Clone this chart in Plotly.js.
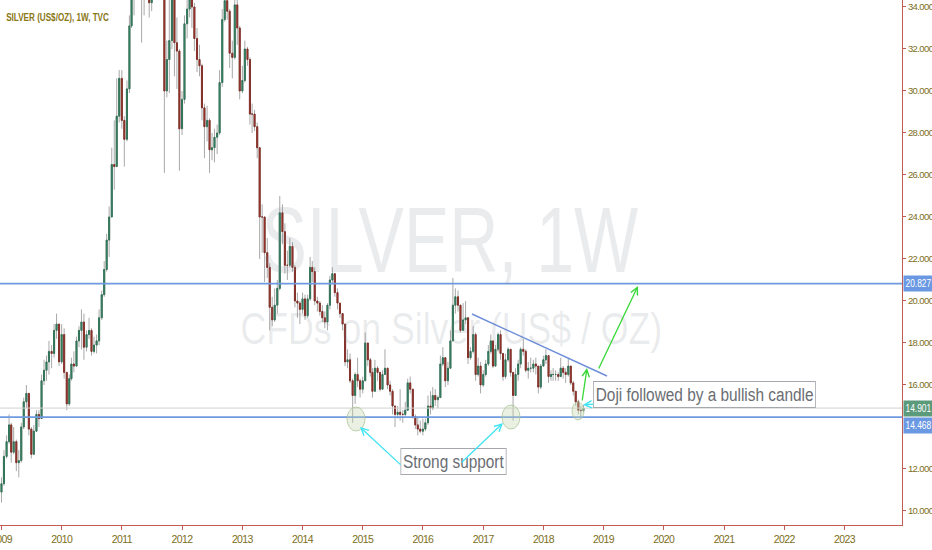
<!DOCTYPE html>
<html>
<head>
<meta charset="utf-8">
<script src="https://cdn.plot.ly/plotly-3.0.1.min.js"></script>
<style>
  html, body { margin: 0; padding: 0; background: #fff; }
  #chart { width: 932px; height: 550px; }
  /* the reference uses a condensed face; squeeze the text horizontally */
  #chart .xtick text, #chart .ytick text { letter-spacing: -0.6px; }
  #chart .annotation text.annotation-text, #chart .annotation rect.bg {
      transform-box: fill-box; transform-origin: center; transform: scaleX(0.81);
  }
  #chart .annotation[data-index="0"] text.annotation-text { transform-origin: left center; transform: scaleX(0.74); }
  #chart .annotation[data-index="1"] text.annotation-text { transform: scaleX(0.74); }
  #chart .annotation[data-index="10"] text.annotation-text, #chart .annotation[data-index="10"] rect.bg,
  #chart .annotation[data-index="11"] text.annotation-text, #chart .annotation[data-index="11"] rect.bg,
  #chart .annotation[data-index="12"] text.annotation-text, #chart .annotation[data-index="12"] rect.bg {
      transform-origin: left center; transform: scaleX(0.8);
  }
</style>
</head>
<body>
<div id="chart"></div>
<script>
// --- Data: half-month candles, rows are [high, low, close], open = previous close ---
const open0 = 10.9;

const y2009 = [[11.6,10.4,11.3],[12.9,11.2,12.6],[13.6,12.5,13.3],[14.6,13.2,14.1],[14.2,12.3,12.8],[14.0,12.7,13.3],[13.4,11.9,12.3],[12.9,11.6,12.4],[14.2,12.3,14.0],[15.4,13.9,15.2],[16.0,14.9,15.6],[15.6,13.6,13.9],[14.0,12.5,12.7],[14.1,12.9,13.8],[14.8,13.8,14.6],[14.8,14.0,14.4],[16.5,14.4,16.2],[17.2,16.0,16.7],[17.4,16.2,17.1],[18.1,16.5,17.6],[17.9,16.8,17.5],[18.9,17.3,18.6],[19.4,18.2,18.9],[18.9,16.9,17.1]];
const y2010 = [[18.9,17.0,18.4],[18.7,16.3,16.6],[16.6,14.8,15.1],[16.5,15.0,16.3],[17.3,16.2,17.0],[17.6,16.6,16.9],[18.3,16.9,18.1],[18.8,17.8,18.6],[19.6,17.7,19.0],[19.4,17.2,17.8],[18.6,17.6,18.4],[19.2,18.2,18.6],[18.7,17.4,17.6],[18.3,17.5,17.9],[18.4,17.5,18.1],[19.6,17.9,19.2],[20.5,19.1,20.3],[21.9,20.2,21.5],[23.2,21.4,22.9],[24.5,22.1,24.0],[27.3,24.0,26.5],[28.6,25.3,26.4],[30.6,26.4,28.8],[31.0,28.5,30.6]];
const y2011 = [[31.0,28.2,28.6],[28.8,26.4,27.7],[30.5,27.6,30.1],[33.6,29.9,33.1],[36.4,33.0,35.8],[38.0,33.6,37.7],[41.0,37.5,40.6],[49.5,40.5,47.0],[48.6,32.3,35.3],[39.2,33.6,37.8],[38.4,35.0,36.0],[36.4,33.5,34.2],[37.6,33.8,36.7],[40.8,36.4,39.4],[43.0,36.5,39.2],[43.5,39.0,41.0],[43.0,39.2,40.5],[40.5,26.1,30.0],[32.4,29.7,31.5],[34.5,29.9,32.4],[35.2,32.0,34.5],[34.6,30.7,32.3],[33.5,30.1,31.9],[32.0,26.2,28.2]];
const y2012 = [[30.0,27.9,29.6],[33.6,29.4,33.2],[34.5,32.5,33.9],[37.4,33.5,35.1],[35.5,33.0,34.0],[34.2,31.9,32.5],[33.0,30.9,31.5],[32.2,30.7,31.2],[31.3,28.6,29.2],[29.4,26.8,28.3],[29.3,27.6,28.6],[28.7,26.1,27.2],[28.0,26.7,27.3],[28.2,26.6,27.8],[28.4,27.0,28.0],[31.0,27.9,30.4],[33.9,30.2,33.4],[35.4,33.3,34.3],[35.3,33.4,33.8],[33.9,31.1,31.8],[32.4,30.6,31.6],[34.6,31.5,34.1],[34.4,32.2,33.0],[33.1,29.6,30.0]];
const y2013 = [[31.2,29.9,30.5],[32.4,30.4,32.0],[32.1,31.2,31.5],[31.6,28.4,28.9],[29.4,28.0,28.9],[29.1,28.1,28.3],[28.5,26.8,27.3],[27.3,22.0,24.0],[24.6,22.3,24.0],[23.3,20.9,22.3],[23.0,21.1,21.6],[21.8,18.6,19.7],[20.2,18.8,19.1],[20.6,19.0,19.8],[21.0,19.4,20.6],[25.0,20.5,24.2],[24.6,22.7,23.3],[23.7,21.3,21.7],[22.4,21.0,21.7],[23.0,21.6,22.6],[22.8,21.4,21.6],[21.7,19.7,20.0],[20.4,19.2,19.9],[20.0,18.9,19.6]];
const y2014 = [[20.4,19.4,20.1],[20.3,19.1,19.3],[20.3,19.2,20.1],[22.1,20.0,21.6],[21.9,20.9,21.4],[21.6,19.8,20.0],[20.2,19.5,19.9],[20.0,19.3,19.5],[19.8,19.0,19.2],[19.5,18.7,19.0],[19.9,18.6,19.8],[21.2,19.6,21.0],[21.6,20.8,21.3],[21.3,20.2,20.4],[20.6,19.6,19.9],[19.9,19.2,19.4],[19.4,18.6,18.9],[18.9,16.9,17.1],[17.7,16.8,17.2],[17.5,16.1,16.2],[16.3,14.2,15.5],[16.6,15.1,16.5],[17.3,15.9,16.2],[16.3,15.4,15.8]];
const y2015 = [[16.4,15.6,16.2],[18.5,16.2,18.0],[18.0,16.9,17.2],[17.3,16.4,16.6],[16.8,15.4,15.7],[17.2,15.7,16.8],[16.9,16.2,16.6],[16.6,15.7,15.8],[16.7,15.8,16.5],[17.7,16.5,16.8],[16.8,15.8,16.0],[16.2,15.5,15.7],[15.8,14.6,15.0],[15.0,14.0,14.6],[15.0,14.4,14.7],[15.8,14.3,14.6],[14.8,14.2,14.6],[15.2,14.5,14.8],[16.3,14.8,16.1],[16.4,15.6,15.8],[15.7,14.4,14.5],[14.6,13.9,14.1],[14.5,13.6,13.9],[14.3,13.7,13.8]];
const y2016 = [[14.4,13.6,13.9],[14.4,13.8,14.2],[15.5,14.1,15.0],[15.7,14.6,14.9],[15.9,14.8,15.5],[15.8,15.0,15.3],[15.5,14.9,15.4],[17.4,15.4,17.0],[17.8,16.9,17.3],[17.2,15.9,16.2],[17.1,16.0,16.8],[18.6,16.8,18.1],[21.1,18.1,19.8],[20.6,19.4,20.2],[20.5,19.5,19.8],[19.8,18.5,18.6],[19.9,18.6,19.1],[20.0,18.9,19.2],[19.2,17.0,17.3],[17.8,17.2,17.6],[18.8,17.5,18.4],[18.5,16.2,16.5],[17.3,16.4,16.9],[17.1,15.6,16.0]];
const y2017 = [[16.7,15.9,16.5],[17.2,16.4,17.0],[17.9,16.9,17.6],[18.4,17.5,18.1],[18.1,16.8,16.9],[17.9,16.9,17.7],[18.5,17.6,18.4],[18.6,17.2,17.5],[17.5,16.2,16.4],[17.5,16.3,17.2],[17.8,17.1,17.7],[17.6,16.4,16.6],[16.6,14.3,15.5],[16.8,15.5,16.5],[17.2,16.2,17.0],[17.8,16.8,17.7],[18.2,17.4,17.6],[17.7,16.6,16.7],[17.1,16.3,16.8],[17.3,16.6,16.8],[17.2,16.6,17.0],[17.3,16.5,16.9],[16.9,15.6,15.9],[17.0,15.8,16.9]];
const y2018 = [[17.4,16.9,17.2],[17.7,17.0,17.4],[17.4,16.1,16.4],[16.7,16.2,16.5],[16.8,16.2,16.5],[16.7,16.2,16.5],[16.6,16.2,16.4],[17.3,16.4,16.8],[16.9,16.3,16.6],[16.8,16.1,16.5],[17.3,16.4,16.9],[16.9,16.0,16.1],[16.2,15.5,15.7],[15.7,15.0,15.2],[15.3,14.6,14.8],[15.0,14.4,14.78],[15.05,14.7,14.901]];

const years = [2009, 2010, 2011, 2012, 2013, 2014, 2015, 2016, 2017, 2018];
const yearRows = [y2009, y2010, y2011, y2012, y2013, y2014, y2015, y2016, y2017, y2018];

// price levels drawn as horizontal lines: resistance, last price, support
const resistance = 20.827;
const lastPrice = 14.901;
const support = 14.468;

const yTicks = [10, 12, 16, 18, 20, 22, 24, 26, 28, 30, 32, 34];

// --- Build OHLC series ---
const dates = [], o = [], h = [], l = [], c = [];
let prev = open0;
years.forEach((yr, k) => {
    yearRows[k].forEach((r, i) => {
        const m = String(Math.floor(i / 2) + 1).padStart(2, '0');
        dates.push(`${yr}-${m}-${i % 2 ? '16' : '01'}`);
        o.push(prev); h.push(r[0]); l.push(r[1]); c.push(r[2]);
        prev = r[2];
    });
});
const bodyTop = o.map((v, i) => Math.max(v, c[i]));
const bodyBot = o.map((v, i) => Math.min(v, c[i]));

const FONT = "'Liberation Sans', Arial, sans-serif";
const AXIS_RED = '#c45a55';
const LABEL = '#7c6e22';

// wicks (grey) drawn first, then bodies with coloured fill on top
const wickTrace = {
    type: 'candlestick', x: dates, open: o, high: h, low: l, close: c,
    increasing: { line: { color: '#a8a8a8', width: 1 }, fillcolor: '#a8a8a8' },
    decreasing: { line: { color: '#a8a8a8', width: 1 }, fillcolor: '#a8a8a8' },
    hoverinfo: 'skip', showlegend: false
};
const bodyTrace = {
    type: 'candlestick', x: dates, open: o, high: bodyTop, low: bodyBot, close: c,
    increasing: { line: { color: '#2b6e52', width: 0.9 }, fillcolor: '#3f9a76' },
    decreasing: { line: { color: '#7e2a22', width: 0.9 }, fillcolor: '#bf3b30' },
    hoverinfo: 'skip', showlegend: false
};

// pixel helpers for overlay drawings (plot area 902 x 525)
const px = v => v / 902;
const py = v => 1 - v / 525;

function arrow(hx, hy, ax, ay, color) {
    return {
        xref: 'paper', yref: 'paper', x: px(hx), y: py(hy), ax: ax, ay: ay,
        text: '', showarrow: true, arrowhead: 5, arrowsize: 1.1, arrowwidth: 1.3,
        arrowcolor: color, standoff: 0, startstandoff: 0
    };
}
function priceTag(val, bg, shift) {
    return {
        xref: 'paper', yref: 'y', x: 1, y: val, xanchor: 'left', xshift: 1, yshift: shift,
        text: val.toFixed(3), showarrow: false, bgcolor: bg, borderpad: 1.5,
        font: { family: FONT, size: 10.5, color: '#ffffff' }
    };
}
function bubble(x0, y0, x1, y1) {
    return {
        type: 'circle', xref: 'paper', yref: 'paper',
        x0: px(x0), x1: px(x1), y0: py(y1), y1: py(y0),
        fillcolor: 'rgba(196,214,176,0.35)', line: { color: 'rgba(170,195,150,0.75)', width: 1 }
    };
}

const annotations = [
    { xref: 'paper', yref: 'paper', x: px(4), y: py(17), xanchor: 'left', yanchor: 'middle',
      text: '<b>SILVER (US$/OZ), 1W, TVC</b>', showarrow: false,
      font: { family: FONT, size: 11, color: '#8a7716' } },
    { xref: 'paper', yref: 'paper', x: px(450), y: py(240), xanchor: 'center', yanchor: 'middle',
      text: 'SILVER, 1W', showarrow: false,
      font: { family: FONT, size: 92, color: 'rgba(125,128,140,0.16)' } },
    { xref: 'paper', yref: 'paper', x: px(451), y: py(328), xanchor: 'center', yanchor: 'middle',
      text: 'CFDs on Silver (US$ / OZ)', showarrow: false,
      font: { family: FONT, size: 44, color: 'rgba(125,128,140,0.16)' } },
    { xref: 'paper', yref: 'paper', x: px(704.5), y: py(394), xanchor: 'center', yanchor: 'middle',
      text: 'Doji followed by a bullish candle', showarrow: false,
      bgcolor: 'rgba(255,255,255,0.9)', bordercolor: '#a4a8ad', borderwidth: 1, borderpad: 2,
      font: { family: FONT, size: 19, color: '#6a6d72' } },
    { xref: 'paper', yref: 'paper', x: px(453.5), y: py(461.5), xanchor: 'center', yanchor: 'middle',
      text: 'Strong support', showarrow: false,
      bgcolor: 'rgba(255,255,255,0.9)', bordercolor: '#a4a8ad', borderwidth: 1, borderpad: 2,
      font: { family: FONT, size: 19, color: '#6a6d72' } },
    arrow(587, 368, -5, 34, '#37d737'),
    arrow(638, 286, -40, 84, '#37d737'),
    arrow(583, 405, 12, -1, '#3fe3f3'),
    arrow(360, 427, 42, 39, '#3fe3f3'),
    arrow(503, 423, -43, 41, '#3fe3f3'),
    priceTag(resistance, '#6a98e2', 0),
    priceTag(lastPrice, '#5c9a7c', 0),
    priceTag(support, '#6a98e2', -8)
];

const shapes = [
    { type: 'line', xref: 'paper', yref: 'y', x0: 0, x1: 1, y0: lastPrice, y1: lastPrice,
      line: { color: '#d2d2d2', width: 1 } },
    { type: 'line', xref: 'paper', yref: 'y', x0: 0, x1: 1, y0: resistance, y1: resistance,
      line: { color: '#6f9ae0', width: 1.6 } },
    { type: 'line', xref: 'paper', yref: 'y', x0: 0, x1: 1, y0: support, y1: support,
      line: { color: '#6f9ae0', width: 1.6 } },
    { type: 'line', xref: 'paper', yref: 'paper', x0: px(472), y0: py(314), x1: px(607), y1: py(376),
      line: { color: '#6f8fd9', width: 1.5 } },
    bubble(347, 407, 365, 431),
    bubble(502, 405, 520, 429),
    bubble(572, 402, 584, 420)
];

const layout = {
    width: 932, height: 550,
    margin: { l: 0, r: 30, t: 0, b: 25 },
    paper_bgcolor: '#ffffff', plot_bgcolor: '#ffffff',
    showlegend: false, dragmode: false,
    xaxis: {
        type: 'date', range: ['2008-12-23', '2023-12-16'],
        rangeslider: { visible: false },
        showgrid: false, zeroline: false,
        showline: true, linecolor: AXIS_RED, linewidth: 1,
        ticks: 'outside', ticklen: 4, tickcolor: AXIS_RED,
        tick0: '2009-01-01', dtick: 'M12', tickformat: '%Y',
        ticklabeloverflow: 'allow',
        tickfont: { family: FONT, size: 10.5, color: LABEL }
    },
    yaxis: {
        side: 'right', range: [9.333, 34.333],
        showgrid: false, zeroline: false,
        showline: true, linecolor: AXIS_RED, linewidth: 1,
        ticks: 'outside', ticklen: 3, tickcolor: AXIS_RED,
        tickvals: yTicks, tickformat: '.3f',
        ticklabeloverflow: 'allow',
        tickfont: { family: FONT, size: 9.5, color: LABEL }
    },
    annotations: annotations,
    shapes: shapes
};

Plotly.newPlot('chart', [wickTrace, bodyTrace], layout, { staticPlot: true, displayModeBar: false });
</script>
</body>
</html>
